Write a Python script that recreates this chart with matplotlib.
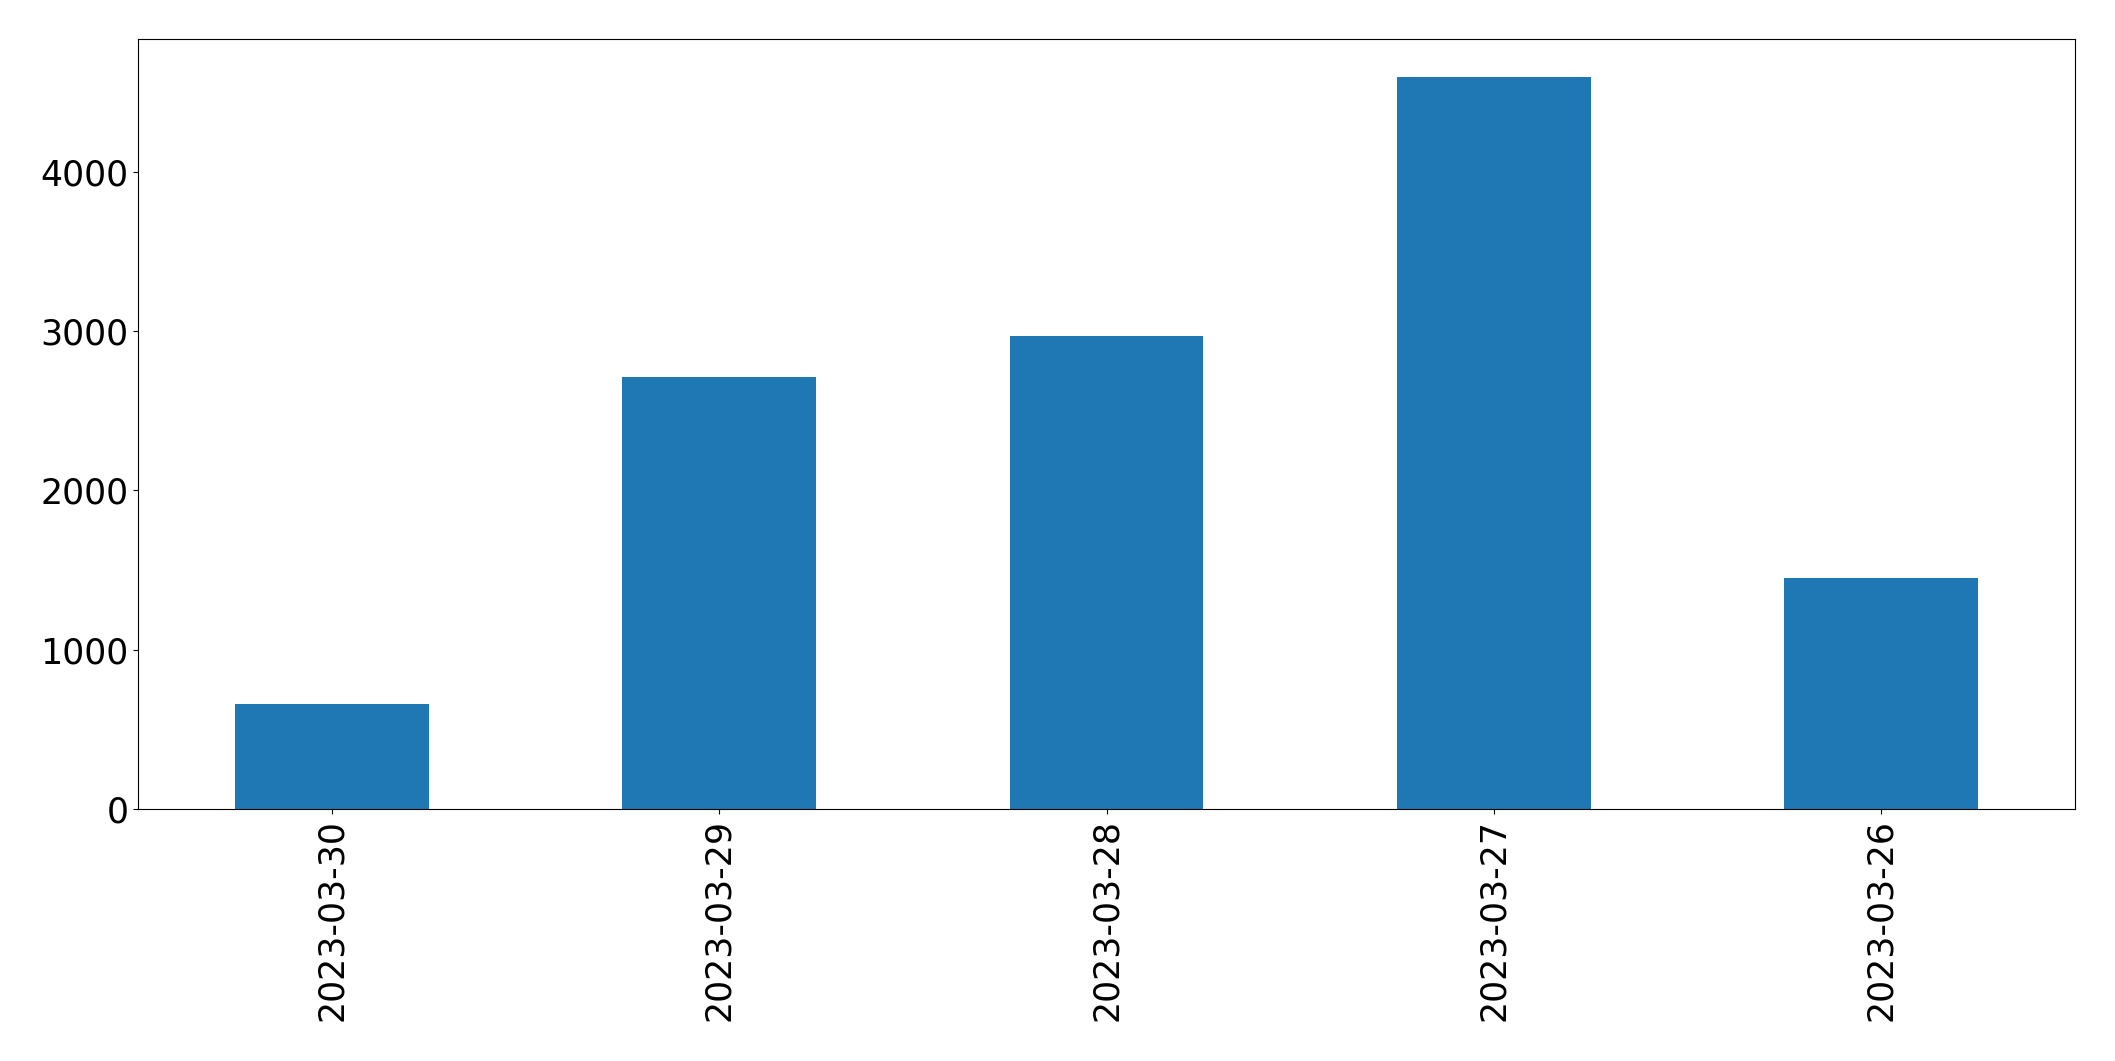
import matplotlib
matplotlib.use("Agg")
import matplotlib.pyplot as plt
import pandas as pd

# Werte pro Tag
dates = ["2023-03-30", "2023-03-29", "2023-03-28", "2023-03-27", "2023-03-26"]
counts = [658, 2708, 2965, 4596, 1448]

s = pd.Series(counts, index=dates)

fig, ax = plt.subplots(figsize=(21.15, 10.61), dpi=100)
s.plot(kind="bar", ax=ax, color="#1f77b4")
ax.tick_params(axis="both", labelsize=25)
ax.set_yticks([0, 1000, 2000, 3000, 4000])
ax.set_ylim(0, 4830)

fig.subplots_adjust(left=0.0654, right=0.981, top=0.963, bottom=0.2375)
fig.savefig("out.png", dpi=100)
